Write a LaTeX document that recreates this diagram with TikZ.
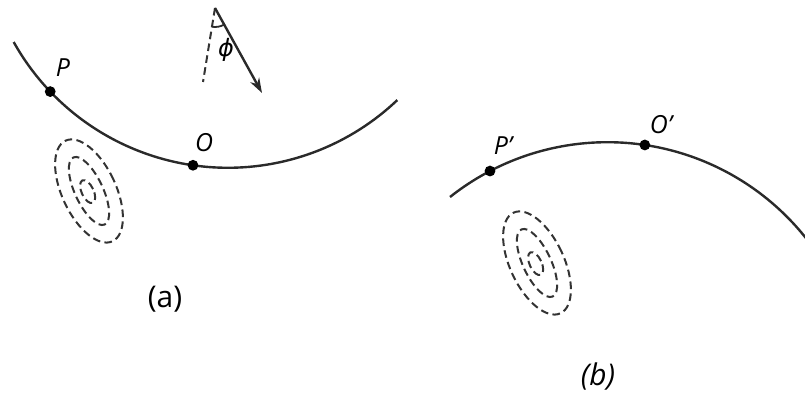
\documentclass[tikz,border=0pt]{standalone}
\usepackage{fontspec}
\setmainfont{Open Sans}
\newfontfamily\phifont{DejaVu Sans}
\usepackage{xcolor}
\usepackage{tikz}
\usetikzlibrary{arrows.meta,calc}
\definecolor{FigInk}{HTML}{2A2A2A}
\definecolor{FigDash}{HTML}{333333}

\begin{document}
\begin{tikzpicture}[x=0.5bp,y=0.5bp,
  orbit/.style={FigInk,line width=1.2bp},
  contour/.style={FigDash,line width=1bp,dash pattern=on 3.8bp off 2.2bp},
  dot/.style={circle,fill=black,inner sep=0pt,minimum size=5.4bp},
  lbl/.style={font=\fontsize{12.5}{14}\selectfont\itshape},
  sublabel/.style={font=\fontsize{15}{18}\selectfont}]
\path[use as bounding box] (0,0) rectangle (805,393);
\coordinate (Ca) at (228,470.7);
\coordinate (Cb) at (607.4,-2.6);
\draw[orbit] ($(Ca)+(209.2:245.5)$) arc[start angle=209.2,end angle=313.6,radius=245.5];
\draw[orbit] ($(Cb)+(128.4:253.4)$) arc[start angle=128.4,end angle=37,radius=253.4];
\node[dot] (P) at ($(Ca)+(223.6:245.5)$) {};
\node[dot] (O) at ($(Ca)+(261.8:245.5)$) {};
\node[dot] (Pb) at ($(Cb)+(117.6:253.4)$) {};
\node[dot] (Ob) at ($(Cb)+(81.5:253.4)$) {};
\node[lbl] (Plbl) at (63,325) {P};
\node[lbl] (Olbl) at (204,250) {O};
\node[lbl] (Pblbl) at (503,247) {P'};
\node[lbl] (Oblbl) at (661,268) {O'};
\node[sublabel] (alab) at (165,94) {(a)};
\node[sublabel,font=\fontsize{15}{18}\selectfont\itshape] (blab) at (598,16) {(b)};
\coordinate (apex) at (215,385);
\coordinate (tip) at (262,300);
\coordinate (vert) at (203,311);
\draw[contour] (apex) -- (vert);
\draw[FigInk,line width=1.2bp,-{Stealth[length=7.5bp,width=5bp]}] (apex) -- (tip);
\draw[FigInk,line width=0.9bp] ($(apex)+(-99.2:19)$) arc[start angle=-99.2,end angle=-61,radius=19];
\node[font=\fontsize{12}{14}\phifont\itshape] (phi) at (226,343) {ϕ};
\foreach \cx/\cy in {89/202,537/130}
{
  \draw[contour,rotate around={25:(\cx,\cy)}] (\cx,\cy) ellipse[x radius=27,y radius=55.5];
  \draw[contour,rotate around={25:(\cx,\cy)}] (\cx,\cy) ellipse[x radius=14,y radius=37];
  \draw[contour,rotate around={25:(\cx,\cy)}] (\cx-1.5,\cy) ellipse[x radius=6,y radius=12.4];
}
\end{tikzpicture}
\end{document}
